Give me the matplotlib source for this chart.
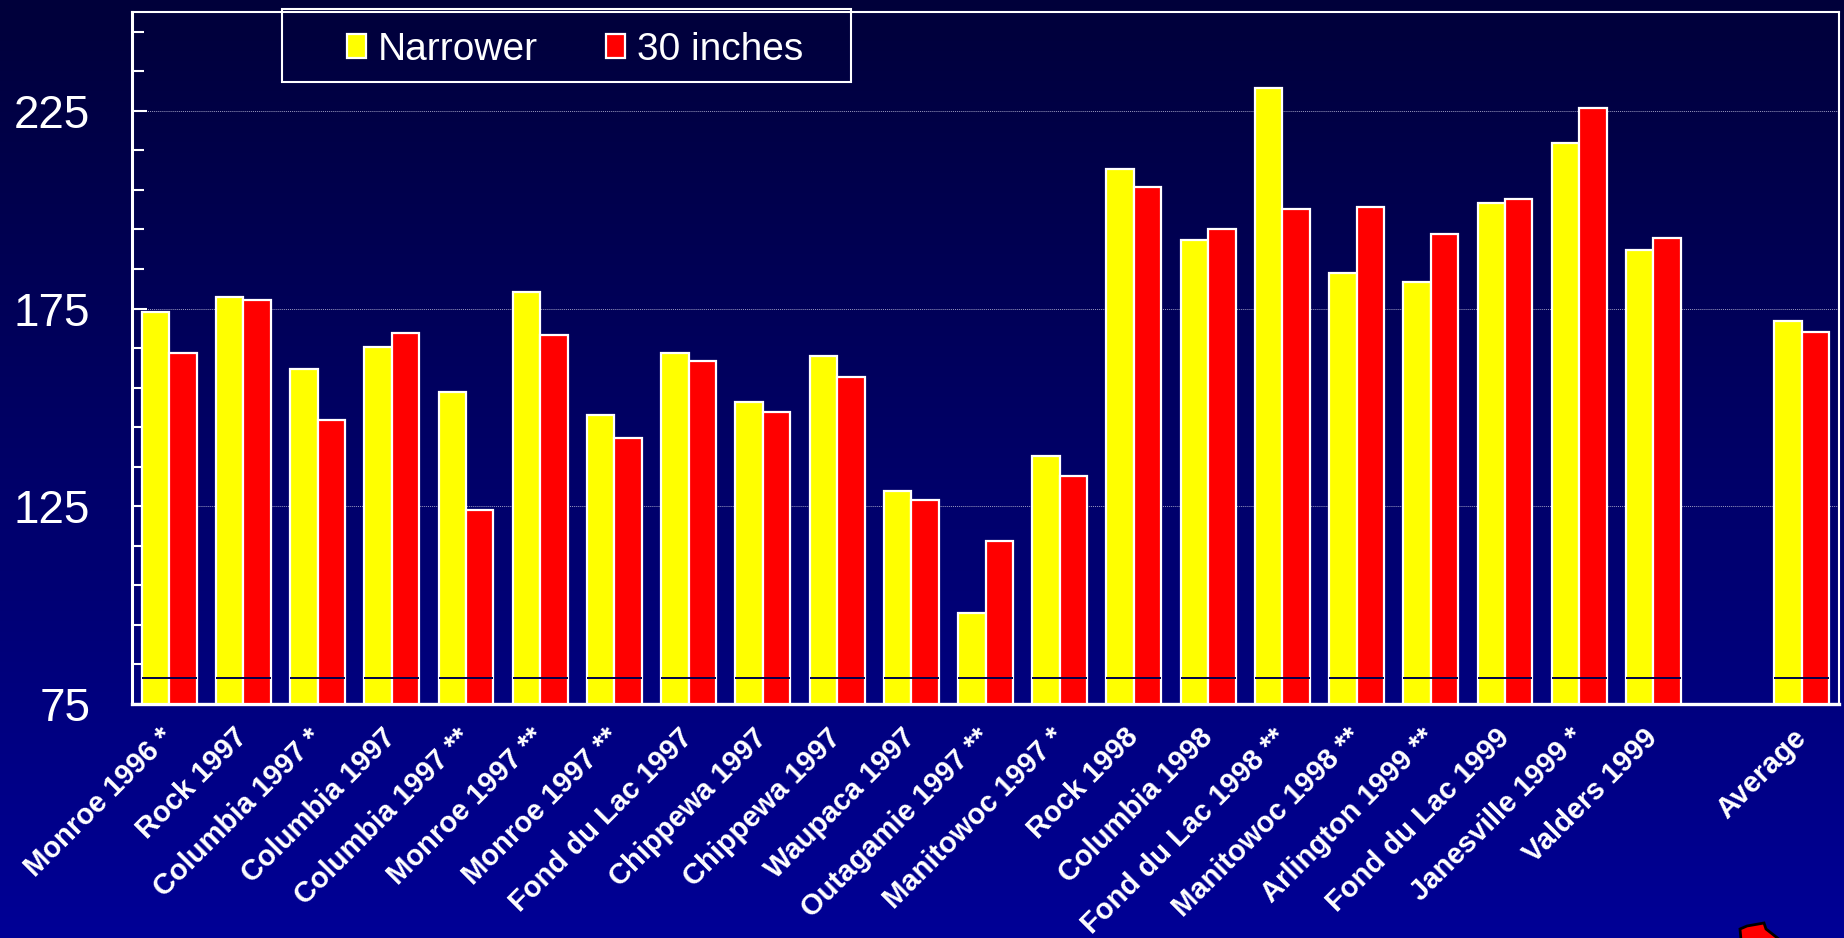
import numpy as np
import matplotlib
matplotlib.use("Agg")
import matplotlib.pyplot as plt
from matplotlib.patches import Rectangle, Polygon
from matplotlib.ticker import FixedLocator

# Yield by site and year: narrower rows vs 30-inch rows
sites = [
    "Monroe 1996 *", "Rock 1997", "Columbia 1997 *", "Columbia 1997",
    "Columbia 1997 **", "Monroe 1997 **", "Monroe 1997 **", "Fond du Lac 1997",
    "Chippewa 1997", "Chippewa 1997", "Waupaca 1997", "Outagamie 1997 **",
    "Manitowoc 1997 *", "Rock 1998", "Columbia 1998", "Fond du Lac 1998 **",
    "Manitowoc 1998 **", "Arlington 1999 **", "Fond du Lac 1999",
    "Janesville 1999 *", "Valders 1999", "", "Average",
]
narrower = [174.1, 178.0, 159.6, 165.2, 153.8, 179.2, 148.0, 163.8,
            151.3, 162.9, 128.8, 98.0, 137.6, 210.3, 192.3, 230.9,
            184.0, 181.8, 201.7, 216.9, 189.7, None, 171.9]
thirty_inch = [163.7, 177.2, 146.9, 168.8, 124.1, 168.3, 142.2, 161.7,
               148.8, 157.7, 126.7, 116.2, 132.7, 205.8, 195.0, 200.3,
               200.6, 193.8, 202.8, 225.7, 192.9, None, 169.1]
series_names = ["Narrower", "30 inches"]
reference_level = 81.6

y_min, y_max = 75, 250
y_labeled = [75, 125, 175, 225]
y_minor = [v for v in range(75, 250, 10) if v not in y_labeled]

plt.rcParams["font.family"] = ["Liberation Sans", "DejaVu Sans"]

W, H, DPI = 1844, 938, 100
fig = plt.figure(figsize=(W / DPI, H / DPI), dpi=DPI)

# vertical navy gradient behind everything
bg = fig.add_axes([0, 0, 1, 1], zorder=-10)
grad = np.linspace(0, 1, 512)[:, None]
top = np.array([0x00, 0x00, 0x3A]) / 255
bot = np.array([0x00, 0x00, 0x96]) / 255
img = top[None, None, :] * (1 - grad[:, :, None]) + bot[None, None, :] * grad[:, :, None]
bg.imshow(img, aspect="auto", extent=[0, 1, 0, 1])
bg.set_axis_off()

ax = fig.add_axes([132 / W, 1 - 704 / H, (1839 - 132) / W, (704 - 12) / H])
ax.set_facecolor("none")

x = np.arange(len(sites))
bw = 0.37
valid = [i for i in range(len(sites)) if narrower[i] is not None]
xv = x[valid]
nv = np.array([narrower[i] for i in valid])
tv = np.array([thirty_inch[i] for i in valid])

b1 = ax.bar(xv - bw / 2, nv - y_min, bw, bottom=y_min,
            color="#FFFF00", edgecolor="white", linewidth=1.6, label=series_names[0], zorder=3)
b2 = ax.bar(xv + bw / 2, tv - y_min, bw, bottom=y_min,
            color="#FF0000", edgecolor="white", linewidth=1.6, label=series_names[1], zorder=3)

# thin dark mark across each bar pair
ax.hlines([reference_level] * len(xv), xv - bw, xv + bw, color="#00004a", linewidth=1.4, zorder=4)

ax.set_xlim(-0.5, len(sites) - 0.5)
ax.set_ylim(y_min, y_max)

ax.yaxis.set_major_locator(FixedLocator(y_labeled))
ax.yaxis.set_minor_locator(FixedLocator(y_minor))
ax.tick_params(axis="y", which="major", direction="in", length=11, width=1.5,
               color="white", labelcolor="white", labelsize=33, pad=30)
ax.tick_params(axis="y", which="minor", direction="in", length=8.6, width=1.5, color="white")
ax.yaxis.grid(True, which="major", linestyle=(0, (1, 1)), color="#9a9ac0", linewidth=0.7, zorder=1)
ax.set_axisbelow(True)

ax.set_xticks(x)
ax.set_xticklabels(sites, rotation=45, ha="right", va="center", rotation_mode="anchor",
                   fontsize=21, fontweight="bold", color="white")
ax.tick_params(axis="x", length=0, pad=21)

for side, lw in (("left", 2.2), ("bottom", 2.4), ("top", 1.5), ("right", 1.5)):
    ax.spines[side].set_color("white")
    ax.spines[side].set_linewidth(lw)

# legend with a separate outline box
leg = ax.legend(handles=[b1, b2], loc="upper left", ncol=2, frameon=False,
                bbox_to_anchor=(335 / W, 1 - 20 / H), bbox_transform=fig.transFigure,
                fontsize=28, handlelength=0.5, handleheight=0.55, handletextpad=0.3,
                columnspacing=1.75, borderpad=0.3, borderaxespad=0)
for t in leg.get_texts():
    t.set_color("white")
fig.patches.append(Rectangle((282 / W, 1 - 82 / H), (851 - 282) / W, (82 - 9) / H,
                             transform=fig.transFigure, fill=False,
                             edgecolor="white", linewidth=1.5, zorder=5))

# partial arrow decoration at the bottom edge
pts = [(1741, 940), (1740, 929), (1747, 926), (1764, 923), (1766, 929), (1780, 940)]
fig.patches.append(Polygon([(px / W, 1 - py / H) for px, py in pts], closed=True,
                           transform=fig.transFigure, facecolor="#FF0000",
                           edgecolor="black", linewidth=2, zorder=5))

fig.savefig("out.png", dpi=DPI)
